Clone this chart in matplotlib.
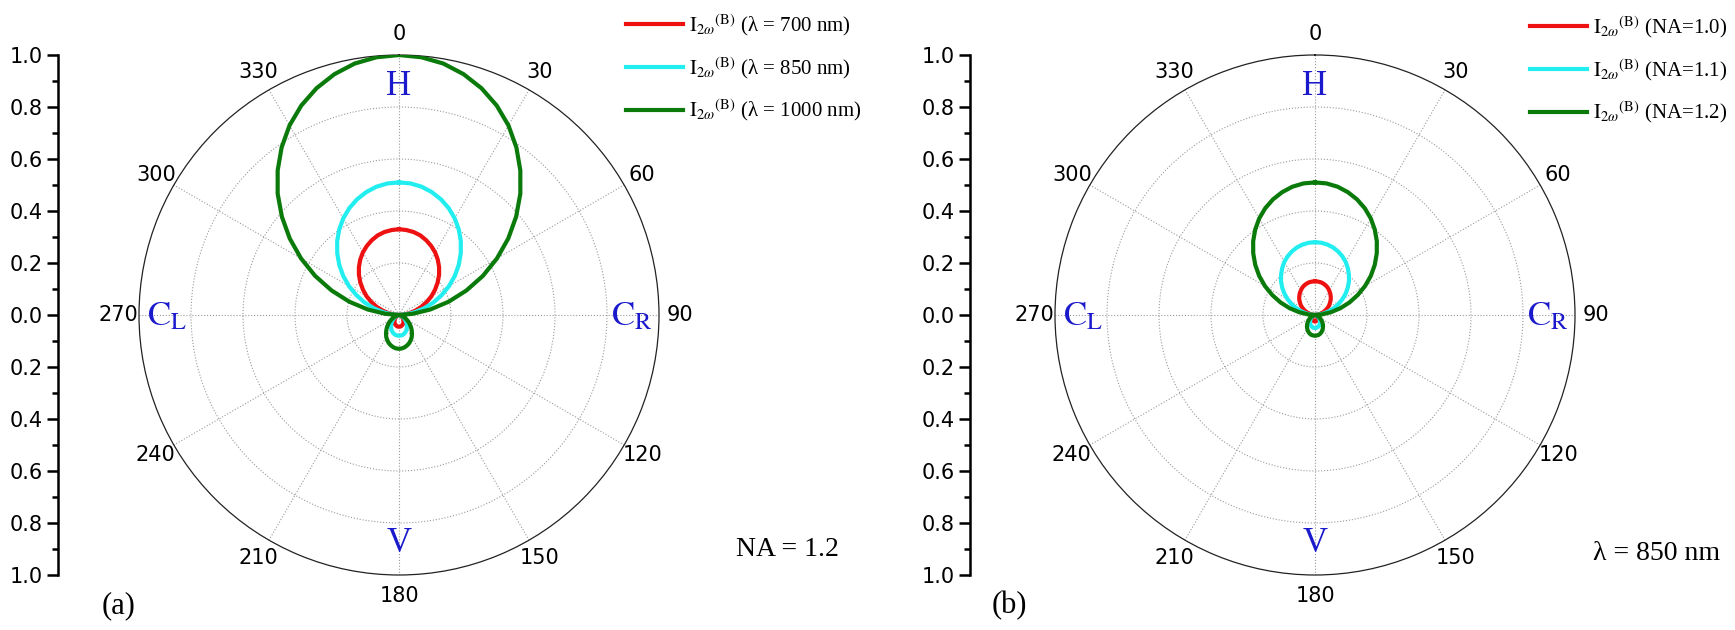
import numpy as np
import matplotlib
matplotlib.use('Agg')
import matplotlib.pyplot as plt
from matplotlib.ticker import MultipleLocator

plt.rcParams['font.family'] = ['DejaVu Sans']
plt.rcParams['mathtext.fontset'] = 'stix'

# ---------------- data ----------------
# Radii read every 5 degrees from 0 (H) to 180 (V); the patterns are
# mirror-symmetric about the H-V axis, so 185..355 repeat 175..5.
angles_half = list(range(0, 181, 5))

# panel (a): NA = 1.2, different wavelengths
r_a_700 = [0.330, 0.328, 0.324, 0.317, 0.306, 0.293, 0.278, 0.260, 0.240, 0.218,
           0.194, 0.169, 0.144, 0.117, 0.091, 0.065, 0.040, 0.018, 0.000,
           0.000, 0.001, 0.003, 0.005, 0.008, 0.011, 0.015, 0.019, 0.023,
           0.026, 0.030, 0.034, 0.037, 0.040, 0.042, 0.044, 0.045, 0.045]
r_a_850 = [0.510, 0.508, 0.501, 0.489, 0.473, 0.453, 0.429, 0.401, 0.370, 0.336,
           0.300, 0.262, 0.222, 0.181, 0.141, 0.101, 0.062, 0.027, 0.000,
           0.001, 0.002, 0.005, 0.009, 0.014, 0.020, 0.026, 0.033, 0.040,
           0.047, 0.054, 0.060, 0.066, 0.071, 0.075, 0.078, 0.079, 0.080]
r_a_1000 = [1.000, 0.995, 0.982, 0.959, 0.928, 0.889, 0.842, 0.787, 0.726, 0.660,
            0.588, 0.513, 0.435, 0.356, 0.276, 0.198, 0.122, 0.053, 0.000,
            0.001, 0.004, 0.009, 0.015, 0.023, 0.033, 0.043, 0.054, 0.065,
            0.076, 0.087, 0.098, 0.107, 0.115, 0.121, 0.126, 0.129, 0.130]

# panel (b): lambda = 850 nm, different NA
r_b_10 = [0.130, 0.129, 0.128, 0.125, 0.121, 0.116, 0.109, 0.102, 0.094, 0.086,
          0.076, 0.067, 0.057, 0.046, 0.036, 0.026, 0.016, 0.007, 0.000,
          0.000, 0.001, 0.002, 0.003, 0.004, 0.006, 0.008, 0.010, 0.013,
          0.015, 0.017, 0.019, 0.021, 0.022, 0.023, 0.024, 0.025, 0.025]
r_b_11 = [0.280, 0.279, 0.275, 0.269, 0.260, 0.249, 0.236, 0.220, 0.203, 0.185,
          0.165, 0.144, 0.122, 0.100, 0.077, 0.055, 0.034, 0.015, 0.000,
          0.000, 0.002, 0.003, 0.006, 0.009, 0.013, 0.016, 0.021, 0.025,
          0.029, 0.034, 0.038, 0.041, 0.044, 0.047, 0.048, 0.050, 0.050]
r_b_12 = [0.510, 0.508, 0.501, 0.489, 0.473, 0.453, 0.429, 0.401, 0.370, 0.336,
          0.300, 0.262, 0.222, 0.181, 0.141, 0.101, 0.062, 0.027, 0.000,
          0.001, 0.002, 0.005, 0.009, 0.014, 0.020, 0.026, 0.033, 0.040,
          0.047, 0.054, 0.060, 0.066, 0.071, 0.075, 0.078, 0.079, 0.080]

labels_a = [r"$\mathrm{I}_{2\omega}{}^{\mathrm{(B)}}$ (λ = 700 nm)",
            r"$\mathrm{I}_{2\omega}{}^{\mathrm{(B)}}$ (λ = 850 nm)",
            r"$\mathrm{I}_{2\omega}{}^{\mathrm{(B)}}$ (λ = 1000 nm)"]
labels_b = [r"$\mathrm{I}_{2\omega}{}^{\mathrm{(B)}}$ (NA=1.0)",
            r"$\mathrm{I}_{2\omega}{}^{\mathrm{(B)}}$ (NA=1.1)",
            r"$\mathrm{I}_{2\omega}{}^{\mathrm{(B)}}$ (NA=1.2)"]
theta_ticks = list(range(0, 360, 30))
radial_ticks = [0.2, 0.4, 0.6, 0.8]
scale_ticks = [-1.0, -0.8, -0.6, -0.4, -0.2, 0.0, 0.2, 0.4, 0.6, 0.8, 1.0]

colors = ['#ee1111', '#22eef0', '#0a7a0a']
blue = '#1a1acc'
SERIF = ['Liberation Serif', 'DejaVu Serif']

W, H = 1735, 630
fig = plt.figure(figsize=(W / 100, H / 100), dpi=100)


def full_circle(r_half):
    """Mirror the 0..180 deg half onto 180..360 and close the curve."""
    th = angles_half + [360 - a for a in angles_half[-2::-1]]
    rr = list(r_half) + list(r_half[-2::-1])
    return np.deg2rad(th), rr


def make_panel(cx, axis_x, curves, labels, legend_xy, note, note_xy, plabel, plabel_xy):
    R = 260
    cy = 315
    ax = fig.add_axes([(cx - R) / W, (H - cy - R) / H, 2 * R / W, 2 * R / H],
                      projection='polar')
    ax.set_theta_zero_location('N')
    ax.set_theta_direction(-1)
    ax.set_ylim(0, 1)
    ax.set_rticks(radial_ticks)
    ax.set_yticklabels([])
    ax.set_xticks(np.deg2rad(theta_ticks))
    ax.set_xticklabels([str(t) for t in theta_ticks], fontsize=15)
    ax.set_xticks(np.deg2rad(np.array(theta_ticks) + 15), minor=True)
    ax.tick_params(axis='x', which='major', direction='in', length=8,
                   width=0.8, pad=8, colors='black')
    ax.tick_params(axis='x', which='minor', direction='in', length=4.5,
                   width=0.8)
    ax.grid(True, which='major', color='#9a9a9a', linestyle=':', linewidth=0.8)
    ax.spines['polar'].set_linewidth(0.9)
    ax.spines['polar'].set_color('#222222')
    for r, c, lab in zip(curves, colors, labels):
        th, rr = full_circle(r)
        ax.plot(th, rr, color=c, lw=3.0, label=lab,
                solid_joinstyle='round', zorder=5)

    ax.text(0, 0.88, 'H', color=blue, fontsize=25, family=SERIF,
            ha='center', va='center')
    ax.text(np.pi, 0.88, 'V', color=blue, fontsize=25, family=SERIF,
            ha='center', va='center')
    ax.text(np.pi / 2, 0.975, r'$\mathrm{C}_{\mathrm{R}}$', color=blue,
            fontsize=25, ha='right', va='center')
    ax.text(3 * np.pi / 2, 0.97, r'$\mathrm{C}_{\mathrm{L}}$', color=blue,
            fontsize=25, ha='left', va='center')

    leg = ax.legend(loc='upper left', bbox_to_anchor=legend_xy,
                    bbox_transform=fig.transFigure, frameon=False,
                    prop={'family': SERIF, 'size': 15}, handlelength=2.75,
                    handletextpad=0.25, borderpad=0, borderaxespad=0,
                    labelspacing=0.82)
    for ln in leg.get_lines():
        ln.set_linewidth(3.0)

    # vertical intensity scale
    vax = fig.add_axes([axis_x / W, (H - cy - R) / H, 0.0005, 2 * R / H])
    vax.patch.set_visible(False)
    for s in ['top', 'right', 'bottom']:
        vax.spines[s].set_visible(False)
    vax.spines['left'].set_linewidth(1.8)
    vax.set_xticks([])
    vax.set_ylim(-1, 1)
    vax.set_yticks(scale_ticks)
    vax.set_yticklabels(['%.1f' % abs(v) for v in scale_ticks], fontsize=15)
    vax.yaxis.set_minor_locator(MultipleLocator(0.1))
    vax.tick_params(axis='y', which='major', length=8, width=1.8, pad=3)
    vax.tick_params(axis='y', which='minor', length=4.5, width=1.8)

    fig.text(note_xy[0] / W, 1 - note_xy[1] / H, note, family=SERIF,
             fontsize=20, ha='left', va='center')
    fig.text(plabel_xy[0] / W, 1 - plabel_xy[1] / H, plabel, family=SERIF,
             fontsize=22, ha='center', va='center')


make_panel(399, 58, [r_a_700, r_a_850, r_a_1000], labels_a,
           (626 / W, 1 - 12 / H), 'NA = 1.2', (736, 550), '(a)', (119, 606))
make_panel(1315, 970, [r_b_10, r_b_11, r_b_12], labels_b,
           (1530 / W, 1 - 14 / H), 'λ = 850 nm', (1593, 553), '(b)', (1009, 606))

fig.savefig('out.png', dpi=100)
